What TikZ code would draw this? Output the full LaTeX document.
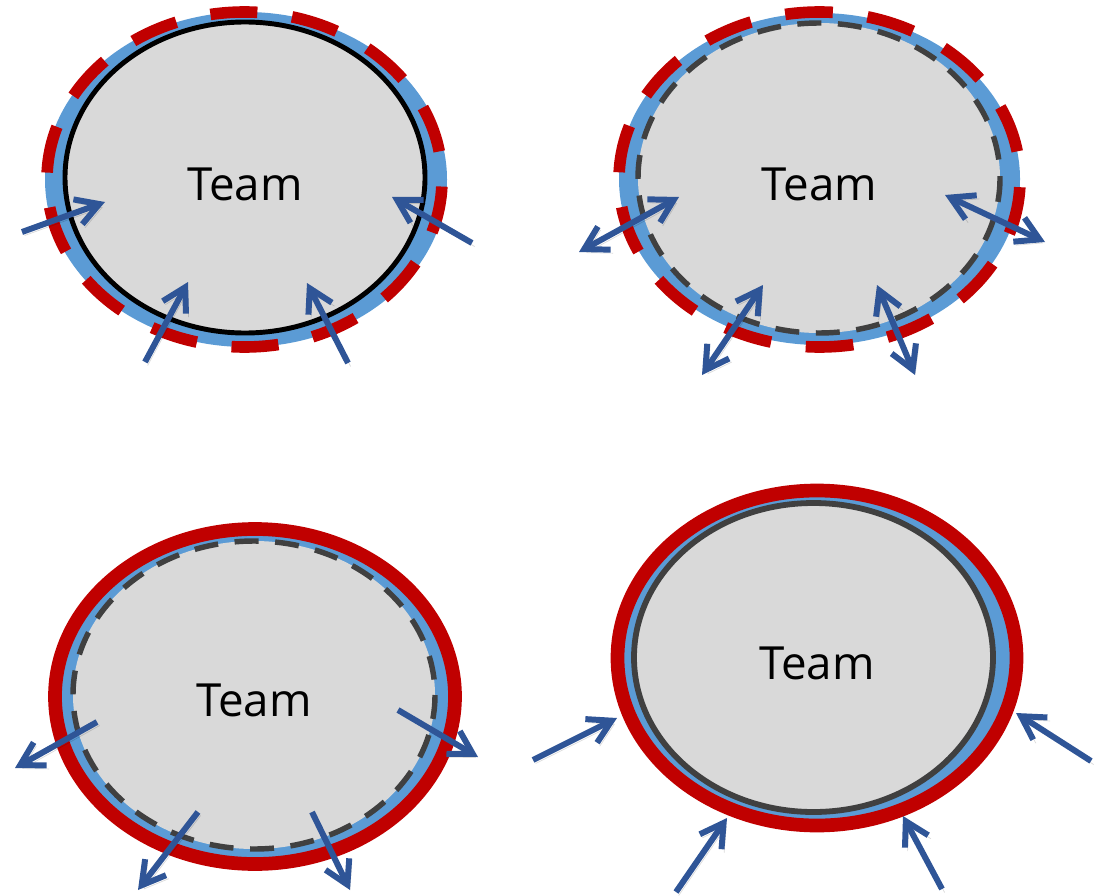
\documentclass[tikz,border=0pt]{standalone}
\usepackage{fontspec}
\setmainfont{Open Sans}
\usetikzlibrary{arrows.meta}

\definecolor{ringred}{HTML}{C00000}
\definecolor{ringblue}{HTML}{5B9BD5}
\definecolor{arrowblue}{HTML}{2F5597}
\definecolor{teamgray}{HTML}{D9D9D9}
\definecolor{linegray}{HTML}{404040}

\begin{document}
\begin{tikzpicture}[x=0.02cm, y=-0.02cm,
    reddash/.style={draw=ringred, line width=6.6pt, dash pattern=on #1 off 0.7cm, dash phase=1.5cm},
    graydash/.style={draw=linegray, line width=3.1pt, dash pattern=on 0.48cm off 0.332cm},
    redring/.style={draw=ringred, line width=7.8pt},
    arr/.style={draw=arrowblue, line width=3.4pt, -{Straight Barb[length=13pt,width=15pt]},
        preaction={draw=black, opacity=0.15, transform canvas={shift={(1.5pt,-2pt)}}}},
    darr/.style={arr, {Straight Barb[length=13pt,width=15pt]}-{Straight Barb[length=13pt,width=15pt]}},
    teamlabel/.style={inner sep=0pt, font=\fontsize{26}{30}\selectfont}]
    \useasboundingbox (0,0) rectangle (1104,895);

    % Top left: blue band, black boundary, red dashes, arrows in
    \fill[ringblue] (246,179.5) ellipse [x radius=201, y radius=167.5];
    \filldraw[fill=teamgray, draw=black, line width=2.8pt] (245,177.5) ellipse [x radius=180, y radius=155.5];
    \draw[reddash=0.941cm] (244.5,179.5) ellipse [x radius=197.5, y radius=167.5];
    \node[teamlabel] (teamTL) at (245,184) {Team};
    \foreach \ax/\ay/\bx/\by in {22/232/105/202, 145/362/188/282, 348/363/307/283, 472/243/392/197} {
        \draw[arr] (\ax,\ay) -- (\bx,\by);
    }

    % Top right: blue band, dashed boundary, red dashes, arrows both ways
    \fill[ringblue] (819.5,179) ellipse [x radius=200.5, y radius=166];
    \fill[teamgray] (819,178) ellipse [x radius=181, y radius=155];
    \draw[graydash] (819,178) ellipse [x radius=181, y radius=155];
    \draw[reddash=0.954cm] (819.5,179.5) ellipse [x radius=200.5, y radius=167.5];
    \node[teamlabel] (teamTR) at (819.5,184) {Team};
    \foreach \ax/\ay/\bx/\by in {579/252/679/197, 702/375/763/285, 877/285/915/375, 945/195/1045/242} {
        \draw[darr] (\ax,\ay) -- (\bx,\by);
    }

    % Bottom left: solid red ring, dashed boundary, arrows out
    \fill[ringblue] (255,696.5) ellipse [x radius=200, y radius=167.5];
    \draw[redring] (255,696.5) ellipse [x radius=200, y radius=167.5];
    \fill[teamgray] (254,695) ellipse [x radius=181, y radius=154];
    \draw[graydash] (254,695) ellipse [x radius=181, y radius=154];
    \node[teamlabel] (teamBL) at (254,700) {Team};
    \foreach \ax/\ay/\bx/\by in {97/722/15/768, 198/812/138/890, 312/812/350/890, 398/710/478/757} {
        \draw[arr] (\ax,\ay) -- (\bx,\by);
    }

    % Bottom right: solid red ring, solid boundary, arrows pushing in
    \fill[ringblue] (817,658) ellipse [x radius=199.5, y radius=167.5];
    \draw[redring] (817,658) ellipse [x radius=199.5, y radius=167.5];
    \filldraw[fill=teamgray, draw=linegray, line width=3.3pt] (813.5,657.5) ellipse [x radius=179.5, y radius=154.5];
    \node[teamlabel] (teamBR) at (817,663.5) {Team};
    \foreach \ax/\ay/\bx/\by in {533/760/617/718, 676/892/727/818, 942/889/903/816, 1091/761/1016/713} {
        \draw[arr] (\ax,\ay) -- (\bx,\by);
    }
\end{tikzpicture}
\end{document}
